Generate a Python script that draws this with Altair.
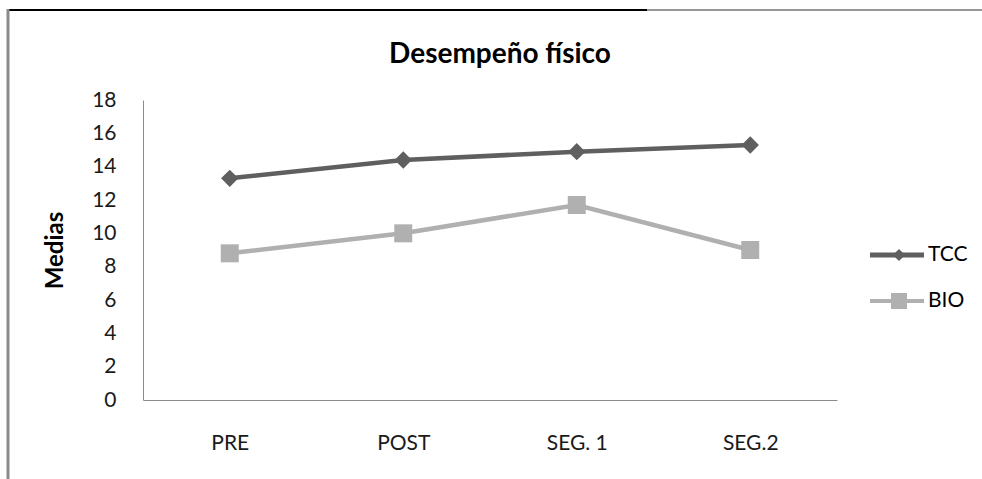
import altair as alt
import pandas as pd

# Chart values
categories = ["PRE", "POST", "SEG. 1", "SEG.2"]
series = ["TCC", "BIO"]
tcc_values = [13.3, 14.4, 14.9, 15.3]
bio_values = [8.8, 10.0, 11.7, 9.0]
y_ticks = [0, 2, 4, 6, 8, 10, 12, 14, 16, 18]
chart_title = "Desempeño físico"

# Styling
colors = ["#5f5f5f", "#b0b0b0"]
shapes = ["diamond", "square"]
marker_sizes = [300, 324]
legend_marker_sizes = [150, 256]
legend_line_widths = [5, 4]
FONT = "Lato"

rows = []
for name, vals in zip(series, [tcc_values, bio_values]):
    for cat, v in zip(categories, vals):
        rows.append({"momento": cat, "serie": name, "media": v})
df = pd.DataFrame(rows)

W, H = 694, 300

x_enc = alt.X(
    "momento:N",
    sort=categories,
    scale=alt.Scale(type="point", domain=categories, padding=0.5),
    axis=alt.Axis(
        title=None, labelAngle=0, ticks=False, domainColor="#8c8c8c",
        labelFont=FONT, labelFontSize=21, labelColor="#1a1a1a", labelPadding=32,
        grid=False,
    ),
)
y_enc = alt.Y(
    "media:Q",
    scale=alt.Scale(domain=[0, 18], nice=False),
    axis=alt.Axis(
        title="Medias", values=y_ticks, ticks=False, grid=False,
        domainColor="#8c8c8c", labelFont=FONT, labelFontSize=21,
        labelColor="#1a1a1a", labelPadding=27,
        titleFont=FONT, titleFontSize=24, titleFontWeight="bold",
        titleColor="#000000", titlePadding=24,
    ),
)
color_enc = alt.Color("serie:N", scale=alt.Scale(domain=series, range=colors), legend=None)

base = alt.Chart(df)
lines = base.mark_line(strokeWidth=4.5).encode(x=x_enc, y=y_enc, color=color_enc, detail="serie:N")
points = base.mark_point(filled=True, opacity=1).encode(
    x=x_enc, y=y_enc, color=color_enc,
    shape=alt.Shape("serie:N", scale=alt.Scale(domain=series, range=shapes), legend=None),
    size=alt.Size("serie:N", scale=alt.Scale(domain=series, range=marker_sizes), legend=None),
)

one = pd.DataFrame({"k": [0]})

# Frame around the chart (top edge and left edge)
frame = [
    alt.Chart(one).mark_rule(color="#000000", strokeWidth=2).encode(
        x=alt.value(-136), x2=alt.value(504), y=alt.value(-90)),
    alt.Chart(one).mark_rule(color="#969696", strokeWidth=2).encode(
        x=alt.value(504), x2=alt.value(W + 145), y=alt.value(-90)),
    alt.Chart(one).mark_rule(color="#8a8a8a", strokeWidth=3).encode(
        x=alt.value(-135), y=alt.value(-91), y2=alt.value(H + 79)),
]

# Chart title, placed inside the frame
title_layer = alt.Chart(pd.DataFrame({"t": [chart_title]})).mark_text(
    align="center", baseline="alphabetic", font=FONT, fontSize=28, fontWeight="bold",
    color="#000000",
).encode(x=alt.value(357), y=alt.value(-37), text="t:N")

# Hand-built legend: line sample with marker, then the series name
legend_layers = []
for i, name in enumerate(series):
    ly = 155 + 46 * i
    ld = pd.DataFrame({"serie": [name]})
    legend_layers.append(
        alt.Chart(ld).mark_rule(color=colors[i], strokeWidth=legend_line_widths[i]).encode(
            x=alt.value(727), x2=alt.value(781), y=alt.value(ly)))
    legend_layers.append(
        alt.Chart(ld).mark_point(filled=True, opacity=1, color=colors[i], shape=shapes[i],
                                 size=legend_marker_sizes[i]).encode(
            x=alt.value(756), y=alt.value(ly)))
    legend_layers.append(
        alt.Chart(ld).mark_text(align="left", baseline="middle", font=FONT, fontSize=21,
                                color="#000000").encode(
            x=alt.value(785), y=alt.value(ly), text="serie:N"))

chart = alt.layer(lines, points, *frame, title_layer, *legend_layers).properties(
    width=W,
    height=H,
    autosize="none",
    padding={"left": 143, "top": 100, "right": 145, "bottom": 79},
    background="#ffffff",
).configure_view(stroke=None)

chart.save("out.html", embed_options={"renderer": "svg", "actions": False})
